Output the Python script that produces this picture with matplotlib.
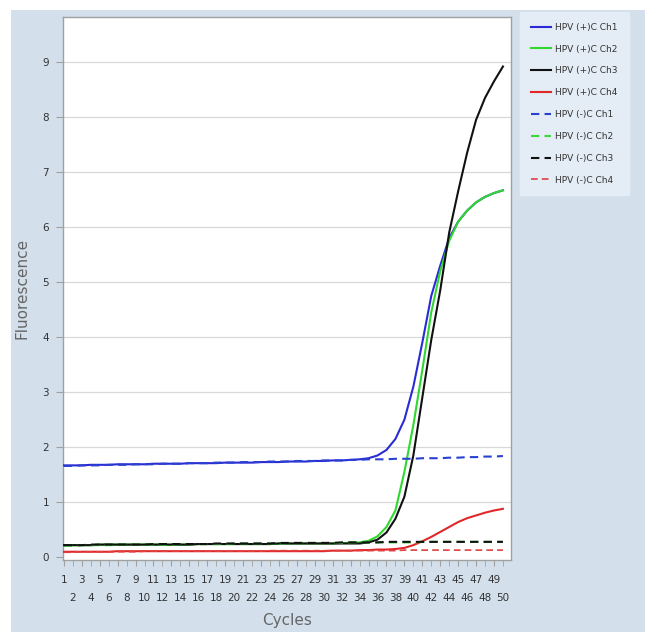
import numpy as np
import matplotlib
matplotlib.use("Agg")
from matplotlib import pyplot as plt
from matplotlib.patches import Rectangle

cycles = list(range(1, 51))

#positive control curves
pos_ch1 = [1.67, 1.67, 1.67, 1.68, 1.68, 1.68, 1.69, 1.69, 1.69, 1.69,
           1.70, 1.70, 1.70, 1.70, 1.71, 1.71, 1.71, 1.71, 1.72, 1.72,
           1.72, 1.72, 1.73, 1.73, 1.73, 1.74, 1.74, 1.74, 1.75, 1.75,
           1.76, 1.76, 1.77, 1.78, 1.80, 1.85, 1.95, 2.15, 2.50, 3.10,
           3.90, 4.75, 5.30, 5.80, 6.10, 6.30, 6.45, 6.55, 6.62, 6.67]
pos_ch2 = [0.22, 0.22, 0.22, 0.22, 0.23, 0.23, 0.23, 0.23, 0.23, 0.23,
           0.23, 0.23, 0.23, 0.23, 0.23, 0.24, 0.24, 0.24, 0.24, 0.24,
           0.24, 0.24, 0.24, 0.24, 0.25, 0.25, 0.25, 0.25, 0.25, 0.25,
           0.25, 0.26, 0.26, 0.27, 0.30, 0.38, 0.55, 0.85, 1.55, 2.40,
           3.40, 4.45, 5.20, 5.75, 6.10, 6.30, 6.45, 6.55, 6.62, 6.67]
pos_ch3 = [0.22, 0.22, 0.22, 0.22, 0.23, 0.23, 0.23, 0.23, 0.23, 0.23,
           0.23, 0.23, 0.23, 0.23, 0.23, 0.24, 0.24, 0.24, 0.24, 0.24,
           0.24, 0.24, 0.24, 0.24, 0.25, 0.25, 0.25, 0.25, 0.25, 0.25,
           0.25, 0.25, 0.25, 0.25, 0.27, 0.32, 0.45, 0.70, 1.10, 1.85,
           2.90, 3.95, 4.85, 5.90, 6.65, 7.35, 7.95, 8.35, 8.65, 8.92]
pos_ch4 = [0.10, 0.10, 0.10, 0.10, 0.10, 0.10, 0.11, 0.11, 0.11, 0.11,
           0.11, 0.11, 0.11, 0.11, 0.11, 0.11, 0.11, 0.11, 0.11, 0.11,
           0.11, 0.11, 0.11, 0.11, 0.11, 0.11, 0.11, 0.11, 0.11, 0.11,
           0.12, 0.12, 0.12, 0.13, 0.13, 0.14, 0.14, 0.15, 0.17, 0.22,
           0.29, 0.37, 0.46, 0.55, 0.64, 0.71, 0.76, 0.81, 0.85, 0.88]

#negative control curves
neg_ch1 = [1.66, 1.66, 1.67, 1.67, 1.67, 1.68, 1.68, 1.68, 1.69, 1.69,
           1.69, 1.70, 1.70, 1.70, 1.71, 1.71, 1.71, 1.72, 1.72, 1.72,
           1.73, 1.73, 1.73, 1.74, 1.74, 1.74, 1.75, 1.75, 1.75, 1.76,
           1.76, 1.76, 1.77, 1.77, 1.78, 1.78, 1.78, 1.79, 1.79, 1.79,
           1.80, 1.80, 1.80, 1.81, 1.81, 1.82, 1.82, 1.83, 1.83, 1.84]
neg_ch2 = [0.21, 0.21, 0.22, 0.22, 0.22, 0.22, 0.22, 0.23, 0.23, 0.23,
           0.23, 0.23, 0.23, 0.24, 0.24, 0.24, 0.24, 0.24, 0.24, 0.25,
           0.25, 0.25, 0.25, 0.25, 0.25, 0.26, 0.26, 0.26, 0.26, 0.26,
           0.26, 0.26, 0.27, 0.27, 0.27, 0.27, 0.27, 0.27, 0.27, 0.27,
           0.28, 0.28, 0.28, 0.28, 0.28, 0.28, 0.28, 0.28, 0.28, 0.28]
neg_ch3 = [0.22, 0.22, 0.22, 0.23, 0.23, 0.23, 0.23, 0.23, 0.23, 0.23,
           0.24, 0.24, 0.24, 0.24, 0.24, 0.24, 0.24, 0.25, 0.25, 0.25,
           0.25, 0.25, 0.25, 0.25, 0.26, 0.26, 0.26, 0.26, 0.26, 0.26,
           0.26, 0.27, 0.27, 0.27, 0.27, 0.27, 0.28, 0.28, 0.28, 0.28,
           0.28, 0.28, 0.28, 0.28, 0.28, 0.28, 0.28, 0.28, 0.28, 0.28]
neg_ch4 = [0.09, 0.09, 0.10, 0.10, 0.10, 0.10, 0.10, 0.10, 0.10, 0.11,
           0.11, 0.11, 0.11, 0.11, 0.11, 0.11, 0.11, 0.11, 0.11, 0.11,
           0.11, 0.11, 0.11, 0.12, 0.12, 0.12, 0.12, 0.12, 0.12, 0.12,
           0.12, 0.12, 0.12, 0.12, 0.12, 0.12, 0.12, 0.12, 0.13, 0.13,
           0.13, 0.13, 0.13, 0.13, 0.13, 0.13, 0.13, 0.13, 0.13, 0.13]

series_labels = ['HPV (+)C Ch1', 'HPV (+)C Ch2', 'HPV (+)C Ch3', 'HPV (+)C Ch4',
                 'HPV (-)C Ch1', 'HPV (-)C Ch2', 'HPV (-)C Ch3', 'HPV (-)C Ch4']
y_ticks = [0, 1, 2, 3, 4, 5, 6, 7, 8, 9]

bg = '#d3e0ec'
fig = plt.figure(figsize=(6.45, 6.32), dpi=100, facecolor='white')
#light blue panel behind everything
fig.patches.append(Rectangle((11/645, 0), 1, 1 - 10/632, transform=fig.transFigure,
                             facecolor=bg, edgecolor='none', zorder=-10))

ax = fig.add_axes([63/645, 1 - 560/632, (511 - 63)/645, (560 - 17)/632])
ax.set_facecolor('white')

ax.set_xlim(0.9, 50.9)
ax.set_ylim(-0.05, 9.82)

for y in y_ticks[1:]:
    ax.axhline(y, color='#d8d8d8', lw=0.9, zorder=0)

#solid = positive, dashed = negative
ax.plot(cycles, pos_ch1, color='#2a2ad6', lw=1.5, label=series_labels[0], zorder=3)
ax.plot(cycles, pos_ch2, color='#2fd82f', lw=1.5, label=series_labels[1], zorder=4)
ax.plot(cycles, pos_ch3, color='#111111', lw=1.5, label=series_labels[2], zorder=5)
ax.plot(cycles, pos_ch4, color='#e0282a', lw=1.5, label=series_labels[3], zorder=3)
ax.plot(cycles, neg_ch1, color='#2a40d0', lw=1.5, ls=(0, (4, 2.5)), label=series_labels[4], zorder=6)
ax.plot(cycles, neg_ch2, color='#3ad63a', lw=1.5, ls=(0, (4, 2.5)), label=series_labels[5], zorder=6)
ax.plot(cycles, neg_ch3, color='#111111', lw=1.5, ls=(0, (4, 2.5)), label=series_labels[6], zorder=6)
ax.plot(cycles, neg_ch4, color='#e04040', lw=1.2, ls=(0, (4, 2.5)), label=series_labels[7], zorder=6)

for s in ax.spines.values():
    s.set_color('#a0a0a0')
    s.set_linewidth(1.0)

#staggered cycle labels: odd on top row, even on lower row
ax.set_xticks(cycles[::2])
ax.set_xticklabels([str(c) for c in cycles[::2]])
ax.set_xticks(cycles[1::2], minor=True)
ax.set_xticklabels([str(c) for c in cycles[1::2]], minor=True)
ax.tick_params(axis='x', which='major', length=4, pad=7, labelsize=7.5,
               labelcolor='#333333', color='#a0a0a0')
ax.tick_params(axis='x', which='minor', length=4, pad=20, labelsize=7.5,
               labelcolor='#333333', color='#a0a0a0')
ax.set_yticks(y_ticks)
ax.tick_params(axis='y', length=5, pad=5, labelsize=7.5, labelcolor='#333333',
               color='#a0a0a0')

ax.set_xlabel('Cycles', fontsize=11, color='#666666')
ax.set_ylabel('Fluorescence', fontsize=11, color='#666666')
ax.xaxis.set_label_coords(0.5, (560 - 621) / 543, transform=ax.transAxes)
ax.yaxis.set_label_coords((22 - 63) / 448, 0.5, transform=ax.transAxes)
ax.xaxis.label.set_va('center')
ax.yaxis.label.set_va('center')

leg = fig.legend(loc='upper left', bbox_to_anchor=(520/645, 1 - 12/632),
                 fontsize=6.5, labelspacing=1.42, handlelength=2.2, handletextpad=0.5,
                 borderpad=1.2, frameon=True, fancybox=False, borderaxespad=0)
leg.get_frame().set_facecolor('#e4ecf5')
leg.get_frame().set_edgecolor('#e4ecf5')
leg.get_frame().set_alpha(1)
for t in leg.get_texts():
    t.set_color('#333333')

fig.savefig('out.png', dpi=100, facecolor=fig.get_facecolor())
